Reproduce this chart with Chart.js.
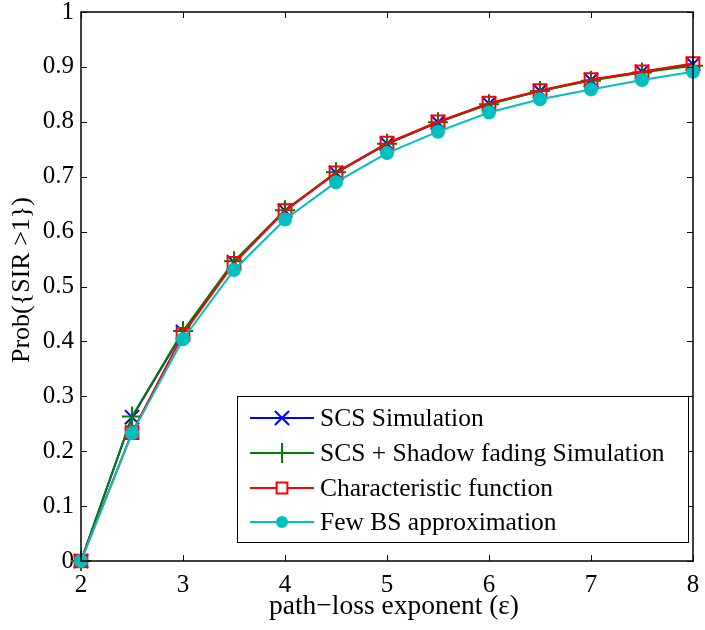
<!DOCTYPE html>
<html>
<head>
<meta charset="utf-8">
<script src="https://cdn.jsdelivr.net/npm/chart.js@4.4.1/dist/chart.umd.min.js"></script>
<style>
html,body{margin:0;padding:0;background:#fff;}
#wrap{width:705px;height:630px;}
</style>
</head>
<body>
<div id="wrap"><canvas id="c" width="705" height="630"></canvas></div>
<script>
const xValues = [2, 2.5, 3, 3.5, 4, 4.5, 5, 5.5, 6, 6.5, 7, 7.5, 8];
const scsSim    = [0, 0.262, 0.417, 0.544, 0.638, 0.707, 0.760, 0.799, 0.833, 0.856, 0.876, 0.891, 0.905];
const shadowSim = [0, 0.263, 0.419, 0.546, 0.639, 0.708, 0.760, 0.799, 0.832, 0.856, 0.875, 0.890, 0.902];
const charFn    = [0, 0.234, 0.413, 0.542, 0.638, 0.707, 0.761, 0.800, 0.834, 0.857, 0.877, 0.891, 0.906];
const fewBS     = [0, 0.233, 0.404, 0.530, 0.622, 0.690, 0.743, 0.782, 0.817, 0.841, 0.859, 0.876, 0.891];
const seriesNames = ['SCS Simulation', 'SCS + Shadow fading Simulation', 'Characteristic function', 'Few BS approximation'];
const xTickLabels = ['2', '3', '4', '5', '6', '7', '8'];
const yTickLabels = ['0', '0.1', '0.2', '0.3', '0.4', '0.5', '0.6', '0.7', '0.8', '0.9', '1'];
const xTitle = 'path\u2212loss exponent (\u03b5)';
const yTitle = 'Prob({SIR >1})';

const FONT = '"Liberation Serif", "Times New Roman", serif';
const pts = arr => arr.map((v, i) => ({x: xValues[i], y: v}));

const styles = [
  {color: '#0000ff', pointStyle: 'crossRot', radius: 10, order: 4},
  {color: '#008000', pointStyle: 'cross', radius: 10, order: 3},
  {color: '#ff0000', pointStyle: 'rect', radius: 9, order: 2},
  {color: '#00bfbf', pointStyle: 'circle', radius: 6, order: 1}
];
const seriesData = [scsSim, shadowSim, charFn, fewBS];

const datasets = seriesData.map((d, i) => ({
  label: seriesNames[i],
  data: pts(d),
  borderColor: styles[i].color,
  backgroundColor: i === 3 ? styles[i].color : 'rgba(0,0,0,0)',
  pointBorderColor: styles[i].color,
  pointBackgroundColor: i === 3 ? styles[i].color : 'rgba(0,0,0,0)',
  pointStyle: styles[i].pointStyle,
  pointRadius: styles[i].radius,
  pointHoverRadius: styles[i].radius,
  pointBorderWidth: 2,
  borderWidth: 2,
  tension: 0,
  clip: false,
  order: styles[i].order
}));

function drawMarker(ctx, style, x, y, r, color) {
  ctx.save();
  ctx.strokeStyle = color; ctx.fillStyle = color; ctx.lineWidth = 2;
  ctx.beginPath();
  if (style === 'crossRot') {
    const o = r * Math.SQRT1_2;
    ctx.moveTo(x - o, y - o); ctx.lineTo(x + o, y + o);
    ctx.moveTo(x - o, y + o); ctx.lineTo(x + o, y - o);
    ctx.stroke();
  } else if (style === 'cross') {
    ctx.moveTo(x - r, y); ctx.lineTo(x + r, y);
    ctx.moveTo(x, y - r); ctx.lineTo(x, y + r);
    ctx.stroke();
  } else if (style === 'rect') {
    const s = r * 0.6;
    ctx.fillStyle = '#fff';
    ctx.rect(x - s, y - s, 2 * s, 2 * s);
    ctx.fill(); ctx.stroke();
  } else {
    ctx.arc(x, y, r, 0, Math.PI * 2);
    ctx.fill();
  }
  ctx.restore();
}

const framePlugin = {
  id: 'frame',
  afterDraw(chart) {
    const ctx = chart.ctx;
    const a = chart.chartArea;
    const xs = chart.scales.x, ys = chart.scales.y;
    ctx.save();
    ctx.strokeStyle = '#000';
    ctx.lineWidth = 1.5;
    ctx.strokeRect(a.left, a.top, a.right - a.left, a.bottom - a.top);
    ctx.lineWidth = 1;
    const tl = 6;
    ctx.beginPath();
    xTickLabels.forEach(t => {
      const px = Math.round(xs.getPixelForValue(parseFloat(t))) + 0.5;
      ctx.moveTo(px, a.bottom); ctx.lineTo(px, a.bottom - tl);
      ctx.moveTo(px, a.top); ctx.lineTo(px, a.top + tl);
    });
    yTickLabels.forEach(t => {
      const py = Math.round(ys.getPixelForValue(parseFloat(t))) + 0.5;
      ctx.moveTo(a.left, py); ctx.lineTo(a.left + tl, py);
      ctx.moveTo(a.right, py); ctx.lineTo(a.right - tl, py);
    });
    ctx.stroke();

    // axis titles
    ctx.fillStyle = '#000';
    ctx.textAlign = 'center';
    ctx.textBaseline = 'middle';
    ctx.font = '27.5px ' + FONT;
    ctx.fillText(xTitle, 394, 607);
    ctx.font = '26px ' + FONT;
    ctx.save();
    ctx.translate(22, 280);
    ctx.rotate(-Math.PI / 2);
    ctx.fillText(yTitle, 0, 0);
    ctx.restore();

    // legend box
    const L = 237, T = 396, R = 688, B = 542;
    ctx.fillStyle = '#fff';
    ctx.fillRect(L, T, R - L, B - T);
    ctx.lineWidth = 1;
    ctx.strokeStyle = '#000';
    ctx.strokeRect(L + 0.5, T + 0.5, R - L, B - T);
    const rows = [418, 453, 488, 522];
    ctx.font = '25.5px ' + FONT;
    ctx.textBaseline = 'middle';
    ctx.textAlign = 'left';
    chart.data.datasets.forEach((ds, i) => {
      const y = rows[i];
      ctx.strokeStyle = ds.borderColor;
      ctx.lineWidth = 2;
      ctx.beginPath();
      ctx.moveTo(250, y); ctx.lineTo(314, y);
      ctx.stroke();
      drawMarker(ctx, ds.pointStyle, 282, y, ds.pointRadius, ds.borderColor);
      ctx.fillStyle = '#000';
      ctx.fillText(ds.label, 320, y + 1);
    });
    ctx.restore();
  }
};

new Chart(document.getElementById('c'), {
  type: 'line',
  data: {datasets},
  options: {
    responsive: false,
    animation: false,
    devicePixelRatio: 1,
    layout: {padding: {left: 0, right: 9, top: 12, bottom: 0}},
    plugins: {legend: {display: false}, tooltip: {enabled: false}},
    elements: {line: {fill: false}},
    scales: {
      x: {
        type: 'linear', min: 2, max: 8,
        grid: {display: false, drawTicks: false},
        border: {display: false},
        afterFit(s) { s.height = 69; s.paddingLeft = 0; s.paddingRight = 0; },
        afterBuildTicks(s) { s.ticks = xTickLabels.map(t => ({value: parseFloat(t)})); },
        ticks: {
          padding: 9, color: '#000', font: {family: FONT, size: 25}, maxRotation: 0,
          callback: (v) => xTickLabels.find(t => parseFloat(t) === v) || ''
        }
      },
      y: {
        type: 'linear', min: 0, max: 1,
        grid: {display: false, drawTicks: false},
        border: {display: false},
        afterFit(s) { s.width = 81; s.paddingTop = 0; s.paddingBottom = 0; },
        afterBuildTicks(s) { s.ticks = yTickLabels.map(t => ({value: parseFloat(t)})); },
        ticks: {
          padding: 7, color: '#000', font: {family: FONT, size: 25},
          callback: (v) => yTickLabels.find(t => Math.abs(parseFloat(t) - v) < 1e-9) || ''
        }
      }
    }
  },
  plugins: [framePlugin]
});
</script>
</body>
</html>
